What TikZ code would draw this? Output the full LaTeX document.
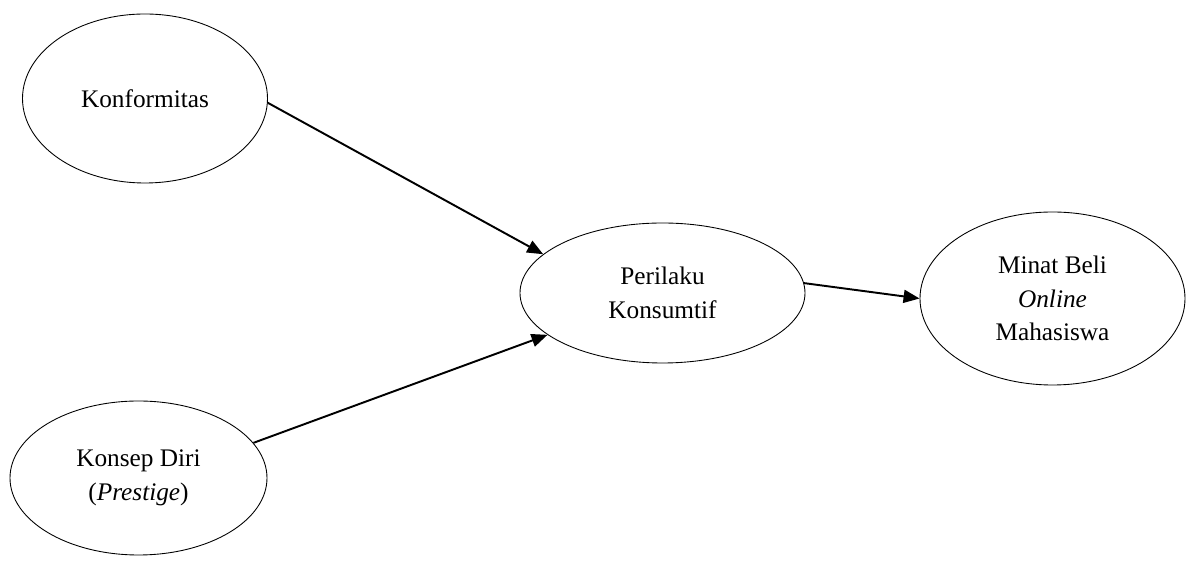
\documentclass[tikz,border=0pt]{standalone}
\usepackage{fontspec}
\setmainfont{Liberation Serif}
\usetikzlibrary{arrows.meta, positioning, shapes.geometric}

\tikzset{
  varnode/.style={draw, ellipse, line width=0.5pt, inner sep=2pt,
    align=center, font=\fontsize{14.4}{19}\selectfont},
  varlink/.style={line width=1.1pt, -{Triangle[length=0.32cm, width=0.26cm]}}
}

\begin{document}
\begin{tikzpicture}
\useasboundingbox (0,0) rectangle (23.72,-11.3);

\node[varnode, minimum width=4.90cm, minimum height=3.38cm] (konf) at (2.90,-1.97) {Konformitas};
\node[varnode, minimum width=5.14cm, minimum height=3.08cm] (konsep) at (2.77,-9.56)
  {Konsep Diri\\(\textit{Prestige})};
\node[varnode, minimum width=5.70cm, minimum height=2.80cm] (peri) at (13.25,-5.86)
  {Perilaku\\Konsumtif};
\node[varnode, minimum width=5.30cm, minimum height=3.46cm] (minat) at (21.05,-5.97)
  {Minat Beli\\\textit{Online}\\Mahasiswa};

\draw[varlink] (konf.-2) -- (peri.162);
\draw[varlink] (konsep.17) -- (peri.200);
\draw[varlink] (peri.4) -- (minat.west);
\end{tikzpicture}
\end{document}
